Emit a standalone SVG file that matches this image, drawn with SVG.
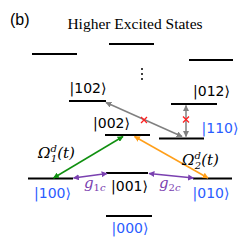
<svg xmlns="http://www.w3.org/2000/svg" width="245" height="245" viewBox="0 0 245 245">
<style>
.lv{stroke:#000;stroke-width:2}
.ket{font-family:"DejaVu Sans","Noto Sans",sans-serif;font-size:14px;text-anchor:middle}
.blue{fill:#2a5cff}
.math{font-family:"DejaVu Serif","Liberation Serif",serif;font-style:italic;font-size:15px}
.x{stroke:#ff2020;stroke-width:1.3}
</style>
<defs>
<marker id="ag" viewBox="0 0 10 10" refX="9" refY="5" markerWidth="4" markerHeight="4" orient="auto-start-reverse"><path d="M0,0L10,5L0,10z" fill="#808080"/></marker>
<marker id="agr" viewBox="0 0 10 10" refX="9" refY="5" markerWidth="4" markerHeight="4" orient="auto-start-reverse"><path d="M0,0L10,5L0,10z" fill="#109010"/></marker>
<marker id="ao" viewBox="0 0 10 10" refX="9" refY="5" markerWidth="4" markerHeight="4" orient="auto-start-reverse"><path d="M0,0L10,5L0,10z" fill="#ff9f1a"/></marker>
<marker id="ap" viewBox="0 0 10 10" refX="9" refY="5" markerWidth="4" markerHeight="4" orient="auto-start-reverse"><path d="M0,0L10,5L0,10z" fill="#7a40b0"/></marker>
</defs>
<text x="10" y="25" font-family="Liberation Sans,Arial,sans-serif" font-size="16">(b)</text>
<text x="135" y="29" font-family="Liberation Serif,serif" font-size="15.5" text-anchor="middle">Higher Excited States</text>
<g id="higher">
<line class="lv" x1="32" y1="54" x2="77" y2="54"/>
<line class="lv" x1="109" y1="44" x2="154" y2="44"/>
<line class="lv" x1="189" y1="60" x2="233" y2="60"/>
<circle cx="142" cy="69" r="1" fill="#000"/>
<circle cx="142" cy="74" r="1" fill="#000"/>
<circle cx="142" cy="79" r="1" fill="#000"/>
</g>
<g id="s102"><line class="lv" x1="69" y1="101" x2="106" y2="101"/><text class="ket" x="88" y="93">|102⟩</text></g>
<g id="s012"><line class="lv" x1="171" y1="104" x2="217" y2="104"/><text class="ket" x="211.5" y="96">|012⟩</text></g>
<g id="s002"><line class="lv" x1="105" y1="135" x2="150" y2="135"/><text class="ket" x="111.5" y="128">|002⟩</text></g>
<g id="s110"><line class="lv" x1="159" y1="138.5" x2="204" y2="138.5"/><text class="ket blue" x="220" y="133">|110⟩</text></g>
<g id="s100"><line class="lv" x1="28" y1="178.5" x2="73" y2="178.5"/><text class="ket blue" x="52.5" y="198">|100⟩</text></g>
<g id="s001"><line class="lv" x1="106" y1="173" x2="148" y2="173"/><text class="ket" x="129.5" y="191">|001⟩</text></g>
<g id="s010"><line class="lv" x1="193" y1="178.5" x2="232" y2="178.5"/><text class="ket blue" x="211" y="198">|010⟩</text></g>
<g id="s000"><line class="lv" x1="106" y1="216" x2="152" y2="216"/><text class="ket blue" x="130" y="233">|000⟩</text></g>
<g id="connectors" fill="none">
<line x1="106" y1="102.5" x2="182" y2="136.5" stroke="#808080" stroke-width="1.5" marker-start="url(#ag)" marker-end="url(#ag)"/>
<line x1="186" y1="105.5" x2="186" y2="136.5" stroke="#808080" stroke-width="1.5" marker-start="url(#ag)" marker-end="url(#ag)"/>
<line x1="53.5" y1="178" x2="123" y2="136.5" stroke="#109010" stroke-width="1.5" marker-start="url(#agr)" marker-end="url(#agr)"/>
<line x1="208" y1="178" x2="134.5" y2="136.5" stroke="#ff9f1a" stroke-width="1.5" marker-start="url(#ao)" marker-end="url(#ao)"/>
<line x1="73.5" y1="178" x2="107" y2="173.5" stroke="#7a40b0" stroke-width="1.5" marker-start="url(#ap)" marker-end="url(#ap)"/>
<line x1="149" y1="173.5" x2="193.5" y2="178" stroke="#7a40b0" stroke-width="1.5" marker-start="url(#ap)" marker-end="url(#ap)"/>
<path class="x" d="M141,117L147,123M147,117L141,123"/>
<path class="x" d="M183,116.5L189,122.5M189,116.5L183,122.5"/>
</g>
<text class="math" x="38" y="158">Ω<tspan font-size="10" dy="-6">d</tspan><tspan font-size="10" dx="-6" dy="10">1</tspan><tspan dy="-4">(t)</tspan></text>
<text class="math" x="182" y="165">Ω<tspan font-size="10" dy="-6">d</tspan><tspan font-size="10" dx="-6" dy="10">2</tspan><tspan dy="-4">(t)</tspan></text>
<text class="math" x="84" y="188" fill="#7a40b0" font-size="16">g<tspan font-size="10" dy="3" font-style="normal">1</tspan><tspan font-size="10">c</tspan></text>
<text class="math" x="159" y="188" fill="#7a40b0" font-size="16">g<tspan font-size="10" dy="3" font-style="normal">2</tspan><tspan font-size="10">c</tspan></text>
</svg>
